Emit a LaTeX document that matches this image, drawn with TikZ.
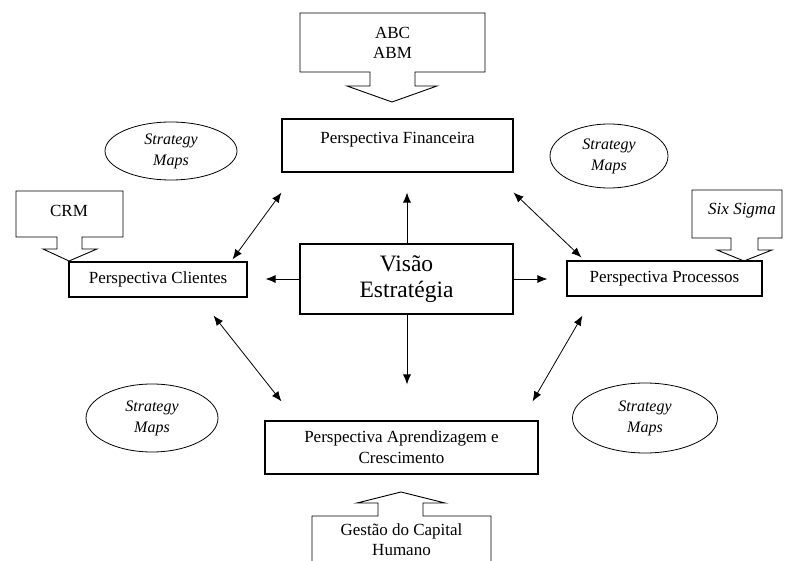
\documentclass[tikz,border=0pt]{standalone}
\usepackage{fontspec}
\setmainfont{Liberation Serif}
\usetikzlibrary{positioning}
\usetikzlibrary{shapes.geometric}
\usetikzlibrary{arrows.meta}

\begin{document}
\begin{tikzpicture}[x=1pt,y=-1pt,
  persp/.style={draw,line width=1.1pt,inner sep=0pt,align=center,font=\fontsize{17}{21}\selectfont},
  mapa/.style={draw,ellipse,line width=0.8pt,inner sep=0pt,align=center,font=\fontsize{16}{21}\selectfont\itshape},
  seta/.style={line width=0.8pt,-{Latex[length=10pt,width=8pt]}},
  dupla/.style={line width=0.8pt,{Latex[length=10pt,width=8pt]}-{Latex[length=10pt,width=8pt]}},
  bloco/.style={line width=0.9pt},
  rotulo/.style={inner sep=0pt,align=center,font=\fontsize{17}{20}\selectfont}]
  \useasboundingbox (0,0) rectangle (787,561);

  % Perspectivas
  \node[persp, minimum width=231, minimum height=53, text height=12pt, text depth=15pt] (fin) at (397.5,145.5) {Perspectiva Financeira};
  \node[persp, minimum width=213, minimum height=70, font=\fontsize{23.5}{26}\selectfont] (visao) at (406.5,279) {Visão\\Estratégia};
  \node[persp, minimum width=178, minimum height=35] (cli) at (158,279.5) {Perspectiva Clientes};
  \node[persp, minimum width=195, minimum height=35] (proc) at (664.5,278.5) {Perspectiva Processos};
  \node[persp, minimum width=273, minimum height=53] (apr) at (401.5,447.5) {Perspectiva Aprendizagem e\\Crescimento};

  % Strategy Maps
  \node[mapa, minimum width=132, minimum height=58] (mapa1) at (171,151) {Strategy\\Maps};
  \node[mapa, minimum width=118, minimum height=64] (mapa2) at (609,156) {Strategy\\Maps};
  \node[mapa, minimum width=132, minimum height=68] (mapa3) at (152,418) {Strategy\\Maps};
  \node[mapa, minimum width=145, minimum height=70] (mapa4) at (645,418) {Strategy\\Maps};

  % Ferramentas
  \draw[bloco] (300,13) -- (485,13) -- (485,72) -- (415,72) -- (415,86) -- (437,86)
    -- (392,102) -- (347,86) -- (370,86) -- (370,72) -- (300,72) -- cycle;
  \node[rotulo] (abc) at (392.5,43) {ABC\\ABM};

  \draw[bloco] (16,191) -- (123,191) -- (123,237) -- (82,237) -- (82,249) -- (97,249)
    -- (69,261) -- (43,249) -- (57,249) -- (57,237) -- (16,237) -- cycle;
  \node[rotulo] (crm) at (69,211) {CRM};

  \draw[bloco] (692,190) -- (782,190) -- (782,238) -- (758,238) -- (758,250) -- (772,250)
    -- (744,261) -- (717,250) -- (731,250) -- (731,238) -- (692,238) -- cycle;
  \node[rotulo, font=\fontsize{17}{20}\selectfont\itshape] (sigma) at (742,211) {Six Sigma};

  \draw[bloco] (312,561) -- (312,516) -- (378,516) -- (378,503) -- (357,503) -- (401,492)
    -- (445,503) -- (423,503) -- (423,516) -- (491,516) -- (491,561);
  \node[rotulo] (capital) at (401.5,540) {Gestão do Capital\\Humano};

  % Setas
  \draw[seta] (visao.north -| 407,0) -- ([yshift=-20pt]fin.south -| 407,0);
  \draw[seta, shorten >=18pt] (visao.west) -- (visao.west -| cli.east);
  \draw[seta, shorten >=19pt] (visao.east) -- (visao.east -| proc.west);
  \draw[seta] (visao.south -| 407,0) -- ([yshift=36pt]apr.north -| 407,0);

  \draw[dupla] ([yshift=-20pt]fin.south west) -- ([xshift=-15pt,yshift=2pt]cli.north east);
  \draw[dupla] ([yshift=-20pt]fin.south east) -- ([xshift=15pt,yshift=3pt]proc.north west);
  \draw[dupla] ([xshift=-34pt,yshift=-18pt]cli.south east) -- ([xshift=17pt,yshift=19pt]apr.north west);
  \draw[dupla] ([xshift=16pt,yshift=-19pt]proc.south west) -- ([xshift=-6pt,yshift=19pt]apr.north east);
\end{tikzpicture}
\end{document}
